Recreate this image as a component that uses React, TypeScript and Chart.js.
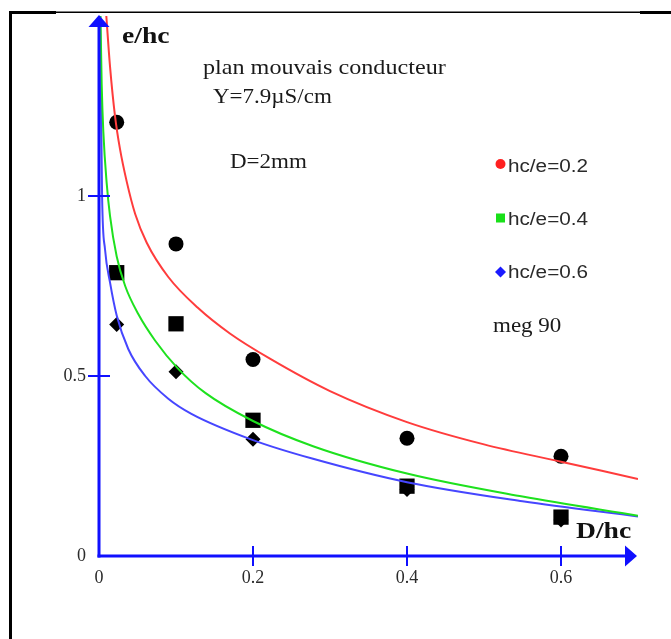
import React, { useEffect, useRef } from "react";
import { Chart, registerables } from "chart.js";

Chart.register(...registerables);

// ---- axis ranges & ticks ----
const X_MIN = 0;
const X_MAX = 0.7;
const Y_MIN = 0;
const Y_MAX = 1.5;
const X_TICKS = [0, 0.2, 0.4, 0.6];
const Y_TICKS = [0, 0.5, 1];

// ---- measured points (black markers) ----
const MEASURE_X = [0.023, 0.1, 0.2, 0.4, 0.6];
const CIRCLE_Y = [1.205, 0.867, 0.546, 0.327, 0.277]; // hc/e=0.2
const SQUARE_Y = [0.787, 0.645, 0.377, 0.194, 0.108]; // hc/e=0.4
const DIAMOND_Y = [0.643, 0.512, 0.324, 0.185, 0.1]; // hc/e=0.6

// ---- fitted curves ----
const RED_X = [0.0095, 0.0143, 0.0208, 0.0273, 0.036, 0.047, 0.062, 0.09, 0.128, 0.17, 0.222, 0.3, 0.4, 0.5, 0.6, 0.7];
const RED_Y = [1.5, 1.36, 1.222, 1.13, 1.04, 0.95, 0.87, 0.775, 0.69, 0.618, 0.548, 0.458, 0.372, 0.31, 0.262, 0.214];

const GREEN_X = [0.0019, 0.0035, 0.0056, 0.01, 0.0143, 0.023, 0.034, 0.051, 0.073, 0.102, 0.138, 0.2, 0.278, 0.4, 0.55, 0.7];
const GREEN_Y = [1.5, 1.31, 1.18, 1.035, 0.945, 0.832, 0.75, 0.672, 0.598, 0.522, 0.453, 0.375, 0.305, 0.229, 0.165, 0.112];

const BLUE_X = [0.0015, 0.004, 0.0078, 0.0143, 0.023, 0.038, 0.06, 0.09, 0.12, 0.2, 0.278, 0.4, 0.55, 0.7];
const BLUE_Y = [1.5, 1.0, 0.852, 0.76, 0.668, 0.575, 0.5, 0.437, 0.395, 0.322, 0.27, 0.205, 0.152, 0.11];

// ---- texts ----
const Y_TITLE = "e/hc";
const X_TITLE = "D/hc";
const NOTE_1 = "plan mouvais conducteur";
const NOTE_2 = "\u03A5=7.9\u00B5S/cm";
const NOTE_3 = "D=2mm";
const NOTE_4 = "meg 90";
const LEGEND_LABELS = ["hc/e=0.2", "hc/e=0.4", "hc/e=0.6"];
const LEGEND_COLORS = ["#ff2020", "#19e019", "#1a1aff"];

const RED = "rgba(255,60,60,1)";
const GREEN = "rgba(30,225,30,1)";
const BLUE = "rgba(70,70,255,1)";
const AXIS = "#1010ff";

const SERIF = "'Liberation Serif', 'Times New Roman', serif";
const SANS = "'Liberation Sans', Arial, sans-serif";
const SX = 1.15;

function toPts(xs: number[], ys: number[]) {
  return xs.map((x, i) => ({ x, y: ys[i] }));
}

function stretchText(ctx: CanvasRenderingContext2D, text: string, x: number, y: number, font: string, color: string) {
  ctx.save();
  ctx.font = font;
  ctx.fillStyle = color;
  ctx.textAlign = "left";
  ctx.textBaseline = "alphabetic";
  ctx.translate(x, y);
  ctx.scale(SX, 1);
  ctx.fillText(text, 0, 0);
  ctx.restore();
}

const decorPlugin = {
  id: "decor",
  beforeDraw(chart: any) {
    const ctx: CanvasRenderingContext2D = chart.ctx;
    ctx.save();
    ctx.fillStyle = "#ffffff";
    ctx.fillRect(0, 0, chart.width, chart.height);
    ctx.fillStyle = "#000000";
    // frame
    ctx.fillRect(9, 11.5, chart.width - 9, 1.5);
    ctx.fillRect(9, 11, 47, 3);
    ctx.fillRect(640, 11, chart.width - 640, 3);
    ctx.fillRect(9, 11, 3, chart.height - 11);
    ctx.restore();
  },
  afterDatasetsDraw(chart: any) {
    const ctx: CanvasRenderingContext2D = chart.ctx;
    const ca = chart.chartArea;
    const xs = chart.scales.x;
    const ys = chart.scales.y;
    const x0 = xs.getPixelForValue(0);
    const y0 = ys.getPixelForValue(0);
    ctx.save();
    ctx.fillStyle = AXIS;
    ctx.strokeStyle = AXIS;
    // y axis
    ctx.fillRect(x0 - 1.5, ca.top + 8, 3, y0 - ca.top - 8 + 1.5);
    ctx.beginPath();
    ctx.moveTo(x0, ca.top - 1);
    ctx.lineTo(x0 - 10.5, ca.top + 11);
    ctx.lineTo(x0 + 10.5, ca.top + 11);
    ctx.closePath();
    ctx.fill();
    // x axis
    ctx.fillRect(x0 - 1.5, y0 - 1.5, ca.right - x0 - 8, 3);
    ctx.beginPath();
    ctx.moveTo(ca.right - 1, y0);
    ctx.lineTo(ca.right - 13, y0 - 10.5);
    ctx.lineTo(ca.right - 13, y0 + 10.5);
    ctx.closePath();
    ctx.fill();
    // tick marks
    ctx.lineWidth = 2;
    X_TICKS.forEach((v) => {
      if (v === 0) return;
      const px = xs.getPixelForValue(v);
      ctx.beginPath();
      ctx.moveTo(px, y0 - 10);
      ctx.lineTo(px, y0 + 10);
      ctx.stroke();
    });
    Y_TICKS.forEach((v) => {
      if (v === 0) return;
      const py = ys.getPixelForValue(v);
      ctx.beginPath();
      ctx.moveTo(x0 - 11, py);
      ctx.lineTo(x0 + 11, py);
      ctx.stroke();
    });
    ctx.restore();

    // titles & notes
    stretchText(ctx, Y_TITLE, 122, 43, `bold 24px ${SERIF}`, "#111");
    stretchText(ctx, X_TITLE, 576, 538, `bold 24px ${SERIF}`, "#111");
    stretchText(ctx, NOTE_1, 203, 74, `21px ${SERIF}`, "#1a1a1a");
    stretchText(ctx, NOTE_2, 213, 103, `20px ${SERIF}`, "#1a1a1a");
    stretchText(ctx, NOTE_3, 230, 168, `20px ${SERIF}`, "#1a1a1a");
    stretchText(ctx, NOTE_4, 493, 332, `20px ${SERIF}`, "#1a1a1a");

    // legend
    const baselines = [172, 225, 278];
    const centers = [164, 218, 272];
    ctx.save();
    ctx.fillStyle = LEGEND_COLORS[0];
    ctx.beginPath();
    ctx.arc(500.5, centers[0], 5, 0, Math.PI * 2);
    ctx.fill();
    ctx.fillStyle = LEGEND_COLORS[1];
    ctx.fillRect(496, centers[1] - 4.5, 9, 9);
    ctx.fillStyle = LEGEND_COLORS[2];
    ctx.beginPath();
    ctx.moveTo(500.5, centers[2] - 5.5);
    ctx.lineTo(506, centers[2]);
    ctx.lineTo(500.5, centers[2] + 5.5);
    ctx.lineTo(495, centers[2]);
    ctx.closePath();
    ctx.fill();
    ctx.restore();
    LEGEND_LABELS.forEach((t, i) => {
      stretchText(ctx, t, 508, baselines[i], `18px ${SANS}`, "#2a2a2a");
    });
  },
};

export default function App() {
  const canvasRef = useRef<HTMLCanvasElement | null>(null);

  useEffect(() => {
    const canvas = canvasRef.current;
    if (!canvas) return;
    const curveBase = {
      showLine: true,
      pointRadius: 0,
      borderWidth: 2,
      cubicInterpolationMode: "monotone" as const,
      fill: false,
    };
    const chart = new Chart(canvas, {
      type: "scatter",
      data: {
        datasets: [
          { ...curveBase, label: "fit 0.2", data: toPts(RED_X, RED_Y), borderColor: RED, backgroundColor: RED },
          { ...curveBase, label: "fit 0.4", data: toPts(GREEN_X, GREEN_Y), borderColor: GREEN, backgroundColor: GREEN },
          { ...curveBase, label: "fit 0.6", data: toPts(BLUE_X, BLUE_Y), borderColor: BLUE, backgroundColor: BLUE },
          {
            label: LEGEND_LABELS[1],
            data: toPts(MEASURE_X, SQUARE_Y),
            showLine: false,
            pointStyle: "rect",
            pointRadius: 10.8,
            pointBorderWidth: 0,
            backgroundColor: "#000",
            borderColor: "#000",
          },
          {
            label: LEGEND_LABELS[2],
            data: toPts(MEASURE_X, DIAMOND_Y),
            showLine: false,
            pointStyle: "rectRot",
            pointRadius: 7.5,
            pointBorderWidth: 0,
            backgroundColor: "#000",
            borderColor: "#000",
          },
          {
            label: LEGEND_LABELS[0],
            data: toPts(MEASURE_X, CIRCLE_Y),
            showLine: false,
            pointStyle: "circle",
            pointRadius: 7.5,
            pointBorderWidth: 0,
            backgroundColor: "#000",
            borderColor: "#000",
          },
        ],
      },
      options: {
        responsive: false,
        animation: false,
        events: [],
        layout: { padding: { left: 0, right: 33, top: 16, bottom: 0 } },
        plugins: {
          legend: { display: false },
          tooltip: { enabled: false },
        },
        scales: {
          x: {
            type: "linear",
            min: X_MIN,
            max: X_MAX,
            grid: { display: false, drawTicks: false },
            border: { display: false },
            afterBuildTicks: (s: any) => {
              s.ticks = X_TICKS.map((v) => ({ value: v }));
            },
            afterFit: (s: any) => {
              s.height = 83;
              s.paddingLeft = 0;
              s.paddingRight = 0;
            },
            ticks: {
              padding: 11,
              color: "#2b2b2b",
              font: { family: SERIF, size: 18 },
              callback: (v: any) => String(v),
            },
          },
          y: {
            type: "linear",
            min: Y_MIN,
            max: Y_MAX,
            grid: { display: false, drawTicks: false },
            border: { display: false },
            afterBuildTicks: (s: any) => {
              s.ticks = Y_TICKS.map((v) => ({ value: v }));
            },
            afterFit: (s: any) => {
              s.width = 99;
              s.paddingTop = 0;
              s.paddingBottom = 0;
            },
            ticks: {
              padding: 13,
              color: "#2b2b2b",
              font: { family: SERIF, size: 18 },
              callback: (v: any) => String(v),
            },
          },
        },
      },
      plugins: [decorPlugin],
    });
    return () => {
      chart.destroy();
    };
  }, []);

  return (
    <div style={{ position: "absolute", left: 0, top: 0, width: 671, height: 639, background: "#fff" }}>
      <canvas ref={canvasRef} width={671} height={639} style={{ display: "block" }} />
    </div>
  );
}
